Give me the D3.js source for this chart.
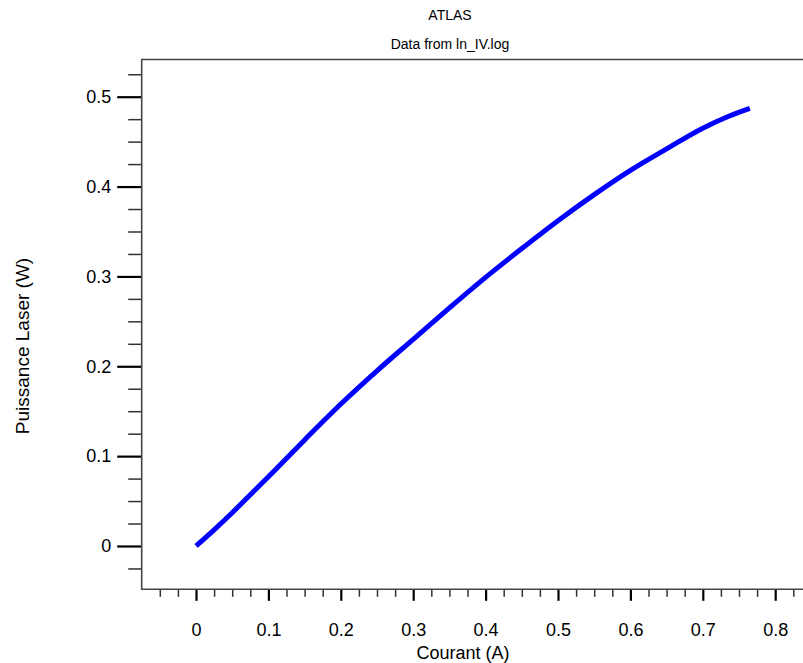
<!DOCTYPE html>
<html>
<head>
<meta charset="utf-8">
<script src="https://cdn.jsdelivr.net/npm/d3@7"></script>
<style>
  html, body { margin: 0; padding: 0; background: #fff; overflow: hidden; }
  svg { display: block; font-family: "Liberation Sans", Arial, sans-serif; }
</style>
</head>
<body>
<svg id="chart" width="803" height="663"></svg>
<script>
// ---- Data ----
const currentA = [0, 0.025, 0.05, 0.075, 0.1, 0.15, 0.2, 0.25, 0.3, 0.35, 0.4, 0.45, 0.5, 0.55, 0.6, 0.65, 0.7, 0.735, 0.765];
const powerW   = [0, 0.018, 0.037, 0.057, 0.077, 0.118, 0.158, 0.195, 0.230, 0.265, 0.299, 0.331, 0.362, 0.391, 0.418, 0.442, 0.465, 0.478, 0.487];
const xMajorTicks = [0, 0.1, 0.2, 0.3, 0.4, 0.5, 0.6, 0.7, 0.8];
const xTickLabels = ["0", "0.1", "0.2", "0.3", "0.4", "0.5", "0.6", "0.7", "0.8"];
const yMajorTicks = [0, 0.1, 0.2, 0.3, 0.4, 0.5];
const yTickLabels = ["0", "0.1", "0.2", "0.3", "0.4", "0.5"];
const titleText = "ATLAS";
const subtitleText = "Data from ln_IV.log";
const xLabel = "Courant (A)";
const yLabel = "Puissance Laser (W)";

// ---- Layout ----
const svg = d3.select("#chart");
const mLeft = 141.7, mTop = 59.5, mBottom = 589.3, mRight = 829.5;

const x = d3.scaleLinear().domain([-0.075, 0.875]).range([mLeft, mRight]);
const y = d3.scaleLinear().domain([-0.0482, 0.5414]).range([mBottom, mTop]);

const xMinor = d3.range(-0.05, 0.851, 0.025).filter(v => Math.abs(Math.round(v * 10) - v * 10) > 1e-6);
const yMinor = d3.range(-0.025, 0.5251, 0.025).filter(v => Math.abs(Math.round(v * 10) - v * 10) > 1e-6);

// Minor ticks
const xMinorAxis = svg.append("g").attr("transform", `translate(0,${mBottom})`)
  .call(d3.axisBottom(x).tickValues(xMinor).tickSize(7.5).tickFormat(""));
xMinorAxis.select(".domain").remove();
xMinorAxis.selectAll("line").attr("stroke", "#333").attr("stroke-width", 1.5);

const yMinorAxis = svg.append("g").attr("transform", `translate(${mLeft},0)`)
  .call(d3.axisLeft(y).tickValues(yMinor).tickSize(13.5).tickFormat(""));
yMinorAxis.select(".domain").remove();
yMinorAxis.selectAll("line").attr("stroke", "#333").attr("stroke-width", 1.5);

// Major ticks
const xAxis = svg.append("g").attr("transform", `translate(0,${mBottom})`)
  .call(d3.axisBottom(x).tickValues(xMajorTicks).tickSize(11.5).tickPadding(22)
    .tickFormat((d, i) => xTickLabels[i]));
xAxis.select(".domain").remove();
xAxis.selectAll("line").attr("stroke", "#000").attr("stroke-width", 2.2);
xAxis.selectAll("text").attr("font-size", 18).attr("fill", "#000")
  .attr("font-family", "Liberation Sans, Arial, sans-serif");

const yAxis = svg.append("g").attr("transform", `translate(${mLeft},0)`)
  .call(d3.axisLeft(y).tickValues(yMajorTicks).tickSize(24.5).tickPadding(6)
    .tickFormat((d, i) => yTickLabels[i]));
yAxis.select(".domain").remove();
yAxis.selectAll("line").attr("stroke", "#000").attr("stroke-width", 2.2);
yAxis.selectAll("text").attr("font-size", 18).attr("fill", "#000")
  .attr("font-family", "Liberation Sans, Arial, sans-serif");

// Frame (top, left, bottom; right edge lies outside the view)
svg.append("path")
  .attr("d", `M${mRight},${mTop}H${mLeft}V${mBottom}H${mRight}`)
  .attr("fill", "none").attr("stroke", "#444").attr("stroke-width", 1.6);

// Data line
const line = d3.line().x((d, i) => x(currentA[i])).y((d, i) => y(powerW[i])).curve(d3.curveMonotoneX);
svg.append("path")
  .datum(currentA)
  .attr("d", line)
  .attr("fill", "none")
  .attr("stroke", "#0000ff")
  .attr("stroke-width", 5)
  .attr("stroke-linejoin", "round")
  .attr("stroke-linecap", "butt");

// Titles
svg.append("text").attr("x", 450).attr("y", 20).attr("text-anchor", "middle")
  .attr("font-size", 14).attr("fill", "#000").text(titleText);
svg.append("text").attr("x", 450).attr("y", 49).attr("text-anchor", "middle")
  .attr("font-size", 14).attr("fill", "#000").text(subtitleText);

// Axis labels
svg.append("text").attr("x", 463).attr("y", 659).attr("text-anchor", "middle")
  .attr("font-size", 18).attr("fill", "#000").text(xLabel);
svg.append("text").attr("transform", "translate(29,346) rotate(-90)")
  .attr("text-anchor", "middle").attr("font-size", 19).attr("fill", "#000").text(yLabel);
</script>
</body>
</html>
